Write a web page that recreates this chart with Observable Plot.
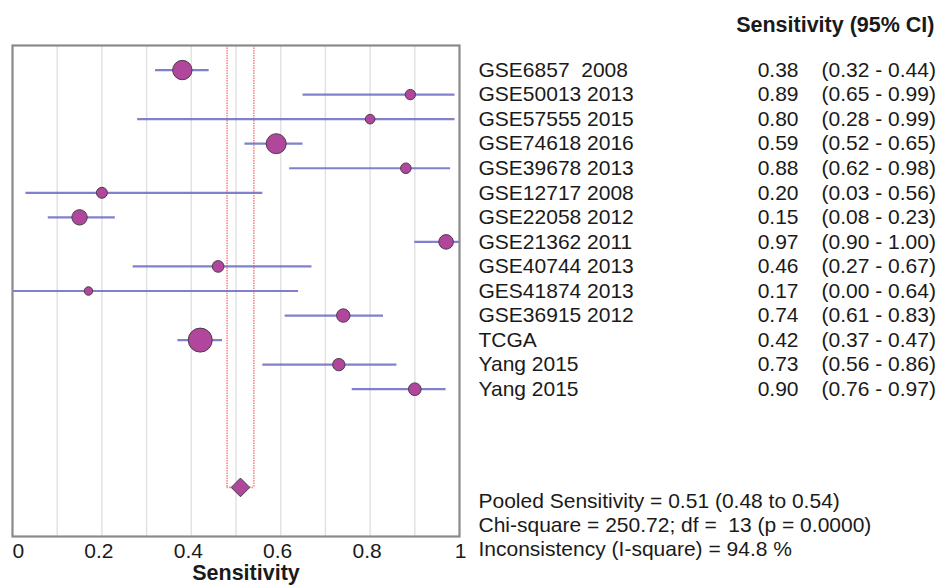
<!DOCTYPE html>
<html>
<head>
<meta charset="utf-8">
<script src="https://cdn.jsdelivr.net/npm/d3@7"></script>
<script src="https://cdn.jsdelivr.net/npm/@observablehq/plot@0.6"></script>
<style>
  html, body { margin: 0; padding: 0; background: #fff; }
  svg text { white-space: pre; }
</style>
</head>
<body>
<div id="chart"></div>
<script>
// Per-study sensitivity with 95% confidence limits and relative study weight
const studyNames = [
  "GSE6857  2008", "GSE50013 2013", "GSE57555 2015", "GSE74618 2016",
  "GSE39678 2013", "GSE12717 2008", "GSE22058 2012", "GSE21362 2011",
  "GSE40744 2013", "GES41874 2013", "GSE36915 2012", "TCGA",
  "Yang 2015", "Yang 2015"
];
const sensitivity = [0.38, 0.89, 0.80, 0.59, 0.88, 0.20, 0.15, 0.97, 0.46, 0.17, 0.74, 0.42, 0.73, 0.90];
const ciLow       = [0.32, 0.65, 0.28, 0.52, 0.62, 0.03, 0.08, 0.90, 0.27, 0.00, 0.61, 0.37, 0.56, 0.76];
const ciHigh      = [0.44, 0.99, 0.99, 0.65, 0.98, 0.56, 0.23, 1.00, 0.67, 0.64, 0.83, 0.47, 0.86, 0.97];
const studyWeight = [94, 27, 23, 100, 28, 30, 59, 53, 34, 18, 45, 144, 38, 40];

// Pooled estimate
const pooledSens = 0.51;
const pooledLow = 0.48;
const pooledHigh = 0.54;
const pooledRow = 17;

const statsLines = [
  "Pooled Sensitivity = 0.51 (0.48 to 0.54)",
  "Chi-square = 250.72; df =  13 (p = 0.0000)",
  "Inconsistency (I-square) = 94.8 %"
];
const gridTicks = [0.1, 0.2, 0.3, 0.4, 0.5, 0.6, 0.7, 0.8, 0.9];

const studies = studyNames.map((name, i) => ({
  name, row: i, sens: sensitivity[i], lo: ciLow[i], hi: ciHigh[i], w: studyWeight[i]
}));
const pooled = [{sens: pooledSens, lo: pooledLow, hi: pooledHigh, row: pooledRow}];

const rowDomain = [-1, 19];
const fmt = d3.format(".2f");
const fmtTick = d => String(d);

const chart = Plot.plot({
  width: 937,
  height: 585,
  marginLeft: 12,
  marginRight: 478,
  marginTop: 45,
  marginBottom: 49,
  style: {fontFamily: "'Liberation Sans', Arial, sans-serif", fontSize: "21px", color: "#1a1a1a", background: "#fff"},
  x: {domain: [0, 1], axis: null},
  y: {domain: rowDomain, reverse: true, axis: null},
  r: {type: "sqrt", domain: [0, 144], range: [0, 12]},
  marks: [
    Plot.gridX(gridTicks, {stroke: "#e2e2e2", strokeOpacity: 1, strokeWidth: 1.5}),
    // pooled confidence band outline
    Plot.ruleX(pooled.flatMap(d => [d.lo, d.hi]), {
      y1: rowDomain[0], y2: pooledRow, stroke: "#f23b3b", strokeWidth: 1.6,
      strokeDasharray: "1.5,1", strokeOpacity: 0.6
    }),
    Plot.ruleY(pooled, {
      y: "row", x1: "lo", x2: "hi", stroke: "#f23b3b", strokeWidth: 1.6,
      strokeDasharray: "1.5,1", strokeOpacity: 0.6
    }),
    // study confidence intervals and point estimates
    Plot.ruleY(studies, {y: "row", x1: "lo", x2: "hi", stroke: "#6a6ac4", strokeWidth: 2.2, strokeOpacity: 0.85}),
    Plot.dot(studies, {x: "sens", y: "row", r: "w", fill: "#b0479c", stroke: "#4b3b4b", strokeWidth: 1}),
    Plot.dot(pooled, {x: "sens", y: "row", r: 8.4, symbol: "diamond2", fill: "#b0479c", stroke: "#4b3b4b", strokeWidth: 1}),
    Plot.frame({stroke: "#8a8a8a", strokeWidth: 2.2}),
    // x axis tick labels
    Plot.axisX([0], {tickSize: 0, tickPadding: 7, textAnchor: "start", tickFormat: fmtTick, label: null}),
    Plot.axisX([0.2, 0.4, 0.6, 0.8], {tickSize: 0, tickPadding: 7, dx: -3, tickFormat: fmtTick, label: null}),
    Plot.axisX([1], {tickSize: 0, tickPadding: 7, dx: 1, tickFormat: fmtTick, label: null}),
    Plot.text(["Sensitivity"], {frameAnchor: "bottom", dy: 37, dx: 10, fontWeight: "bold", fontSize: 21.5, lineAnchor: "middle"}),
    // right-hand table
    Plot.text(["Sensitivity (95% CI)"], {frameAnchor: "top-right", dx: 475, dy: -20.5, textAnchor: "end", fontWeight: "bold", fontSize: 21.5, lineAnchor: "middle"}),
    Plot.text(studies, {y: "row", text: "name", frameAnchor: "right", dx: 19, textAnchor: "start"}),
    Plot.text(studies, {y: "row", text: d => fmt(d.sens), frameAnchor: "right", dx: 339, textAnchor: "end"}),
    Plot.text(studies, {y: "row", text: d => `(${fmt(d.lo)} - ${fmt(d.hi)})`, frameAnchor: "right", dx: 362, textAnchor: "start"}),
    Plot.text([statsLines.join("\n")], {frameAnchor: "bottom-right", dx: 19, dy: -12, textAnchor: "start", lineAnchor: "middle", lineHeight: 1.13})
  ]
});

document.getElementById("chart").appendChild(chart);
</script>
</body>
</html>
